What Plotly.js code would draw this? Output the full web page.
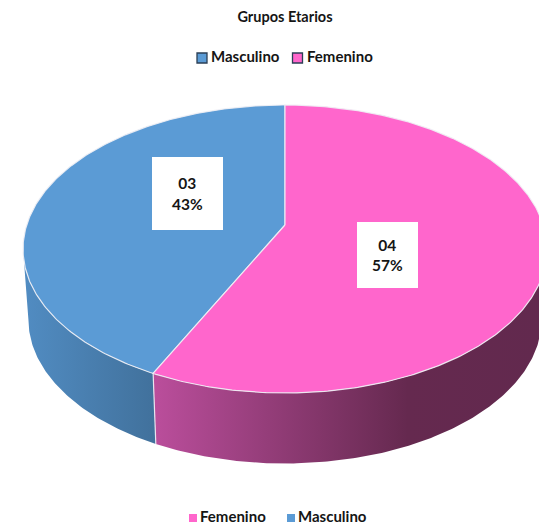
<!DOCTYPE html>
<html>
<head>
<meta charset="utf-8">
<script src="https://cdn.plot.ly/plotly-3.0.1.min.js"></script>
<style>html,body{margin:0;padding:0;background:#fff;overflow:hidden}#chart{width:539px;height:527px}</style>
</head>
<body>
<div id="chart"></div>
<script>
// Data
const chartTitle = 'Grupos Etarios';
const categories = ['Masculino', 'Femenino'];
const values = [3, 4];
const valueLabels = ['03', '04'];
const percentLabels = ['43%', '57%'];
const bottomLegendOrder = ['Femenino', 'Masculino'];

// Style
const topColors = {Masculino: '#5B9BD5', Femenino: '#FF66CC'};
const sideScales = {
  Masculino: [[0, '#518CC2'], [1, '#41719C']],
  Femenino: [[0, '#BB4E9C'], [0.66, '#65294F'], [1, '#62294E']]
};
const font = 'Lato, "Open Sans", sans-serif';
const ink = '#151515';

// Projected pie geometry (in axis units, axes span the page)
const apex = [285, 225], wTop = 258.3, wBase = 253, hP = 140, persp = 1 / 6, depth = 70.5;
function rim(a, w, dy) {
  const u = -Math.sin(a), v = -Math.cos(a), k = 1 - persp * v;
  return [apex[0] + w * u / k, apex[1] + hP * v / k + dy];
}
function arc(a0, a1, w, dy) {
  const out = [], n = Math.max(2, Math.ceil(Math.abs(a1 - a0) * 90));
  for (let i = 0; i <= n; i++) out.push(rim(a0 + (a1 - a0) * i / n, w, dy));
  return out;
}
const total = values.reduce((s, v) => s + v, 0);
const splitAngle = values[0] / total * 2 * Math.PI;
const spans = {Masculino: [0, splitAngle], Femenino: [splitAngle, 2 * Math.PI]};

const traces = [];
// Side walls: only the front-facing part of each slice, between the silhouette tangents
const tangent = Math.acos(-persp);
const sideSpans = {
  Masculino: [tangent, splitAngle],
  Femenino: [splitAngle, 2 * Math.PI - tangent]
};
const gradientStops = {Masculino: [24, 155], Femenino: [153, 539]};
const edge = 'rgba(240,240,245,0.9)';
categories.forEach(c => {
  const [a0, a1] = sideSpans[c];
  const pts = arc(a0, a1, wBase, depth).concat(arc(a1, a0, wTop, 0));
  pts.push(pts[0]);
  traces.push({
    type: 'scatter', mode: 'lines', fill: 'toself', hoverinfo: 'skip', showlegend: false,
    x: pts.map(p => p[0]), y: pts.map(p => p[1]),
    line: {color: 'rgba(255,255,255,0)', width: 0},
    fillgradient: {type: 'horizontal', colorscale: sideScales[c],
      start: gradientStops[c][0], stop: gradientStops[c][1]}
  });
});
// Vertical seam between the two side walls
const seamTop = rim(splitAngle, wTop, 0), seamBottom = rim(splitAngle, wBase, depth);
traces.push({type: 'scatter', mode: 'lines', hoverinfo: 'skip', showlegend: false,
  x: [seamTop[0], seamBottom[0]], y: [seamTop[1], seamBottom[1]],
  line: {color: edge, width: 1.2}});
// Top faces
categories.forEach(c => {
  const [a0, a1] = spans[c];
  const pts = [apex].concat(arc(a0, a1, wTop, 0)); pts.push(apex);
  traces.push({
    type: 'scatter', mode: 'lines', fill: 'toself', name: c, hoverinfo: 'name', showlegend: false,
    x: pts.map(p => p[0]), y: pts.map(p => p[1]),
    fillcolor: topColors[c], line: {color: edge, width: 1.2}
  });
});
// Legends as marker rows and text rows
function legendRow(names, markerX, textX, y, size, markerLine) {
  traces.push({
    type: 'scatter', mode: 'markers', hoverinfo: 'skip', showlegend: false, cliponaxis: false,
    x: markerX, y: names.map(() => y),
    marker: {symbol: 'square', size: size, color: names.map(c => topColors[c]), line: markerLine}
  });
  traces.push({
    type: 'scatter', mode: 'text', hoverinfo: 'skip', showlegend: false, cliponaxis: false,
    x: textX, y: names.map(() => y), text: names, textposition: 'middle right',
    textfont: {family: font, size: 15, color: ink, weight: 700}
  });
}
legendRow(categories, [202, 297.5], [211, 307], 58, 10, {color: '#2b3f55', width: 1.3});
legendRow(bottomLegendOrder, [193, 291], [200, 298], 518, 8, {width: 0});

const labelBoxes = [[187.5, 193.5, 71, 73], [387.5, 255, 61, 66]];
const annotations = categories.map((c, i) => ({
  xref: 'x', yref: 'y', x: labelBoxes[i][0], y: labelBoxes[i][1],
  xanchor: 'center', yanchor: 'middle',
  width: labelBoxes[i][2], height: labelBoxes[i][3], align: 'center', valign: 'middle',
  bgcolor: '#ffffff', borderpad: 0, borderwidth: 0, showarrow: false,
  text: valueLabels[i] + '<br>' + percentLabels[i],
  font: {family: font, size: 15.5, color: ink, weight: 700}
}));

const hidden = {visible: false, fixedrange: true, showgrid: false, zeroline: false};
Plotly.newPlot('chart', traces, {
  width: 539, height: 527, margin: {l: 0, r: 0, t: 0, b: 0},
  paper_bgcolor: '#fff', plot_bgcolor: '#fff', showlegend: false,
  title: {text: chartTitle, x: 285 / 539, xanchor: 'center', y: 1 - 17 / 527, yanchor: 'middle',
    font: {family: font, size: 14.5, color: ink, weight: 700}},
  xaxis: Object.assign({range: [0, 539]}, hidden),
  yaxis: Object.assign({range: [527, 0]}, hidden),
  annotations: annotations
}, {displayModeBar: false, staticPlot: true});
</script>
</body>
</html>
